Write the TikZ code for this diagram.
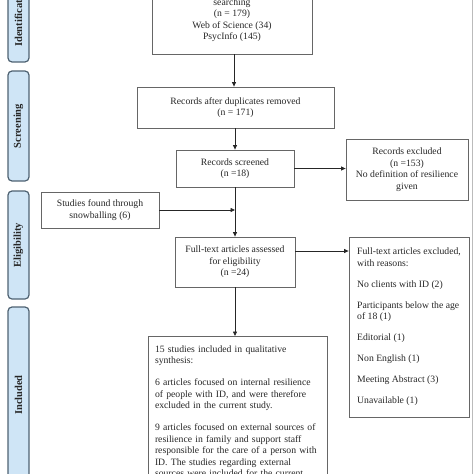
\documentclass[tikz,border=0pt]{standalone}
\usepackage{fontspec}
\setmainfont{Liberation Serif}
\usetikzlibrary{arrows.meta}
\definecolor{boxline}{HTML}{666666}
\definecolor{stagefill}{HTML}{CFE5F6}
\definecolor{stageline}{HTML}{4E6272}
\definecolor{edgeline}{HTML}{BBBBBB}
\begin{document}
\begin{tikzpicture}[x=1pt,y=-1pt,
  box/.style={draw=boxline,line width=0.8pt,inner sep=0pt,align=center,
    font=\fontsize{9.7}{11.5}\selectfont,text=black!85},
  stage/.style={draw=stageline,fill=stagefill,line width=1.2pt,rounded corners=4pt,
    minimum height=21pt,inner sep=0pt,rotate=90,
    font=\bfseries\fontsize{10.5}{12}\selectfont,text=black!85},
  arr/.style={draw=black!85,line width=0.8pt,-{Triangle[length=4.5pt,width=4pt]}},
  pageedge/.style={draw=edgeline,line width=1.5pt}]

\useasboundingbox (0,0) rectangle (474,474);

% stage labels
\node[stage,minimum width=91pt]  (sid)  at (18.5,16.5) {Identification};
\node[stage,minimum width=110pt] (sscr) at (18.5,126)  {Screening};
\node[stage,minimum width=108pt] (selg) at (18.5,245)  {Eligibility};
\node[stage,minimum width=176pt] (sinc) at (18.5,395)  {Included};

% boxes
\node[box,minimum width=160pt,minimum height=68pt] (b1) at (232,20)
  {searching\\(n = 179)\\Web of Science (34)\\PsycInfo (145)};
\node[box,minimum width=197pt,minimum height=41pt] (b2) at (235.5,107.5)
  {Records after duplicates removed\\(n = 171)};
\node[box,minimum width=118pt,minimum height=37pt] (b3) at (235,168.5)
  {Records screened\\(n =18)};
\node[box,minimum width=122pt,minimum height=61pt] (b4) at (407,169.5)
  {Records excluded\\(n =153)\\No definition of resilience\\given};
\node[box,minimum width=118pt,minimum height=36pt] (b5) at (100,210)
  {Studies found through\\snowballing (6)};
\node[box,minimum width=120pt,minimum height=50pt] (b6) at (235,262)
  {Full-text articles assessed\\for eligibility\\(n =24)};
\node[box,minimum width=120pt,minimum height=180pt,align=left] (b7) at (409,327)
  {Full-text articles excluded,\\with reasons:\\[9.5pt]No clients with ID (2)\\[9.5pt]Participants below the age\\of 18 (1)\\[9.5pt]Editorial (1)\\[9.5pt]Non English (1)\\[9.5pt]Meeting Abstract (3)\\[9.5pt]Unavailable (1)};
\node[box,minimum width=179pt,text width=165pt,align=left,inner xsep=0pt,inner ysep=9pt,anchor=north] (b8) at (237.5,336)
  {15 studies included in qualitative\\synthesis:\\[10.5pt]6 articles focused on internal resilience\\of people with ID, and were therefore\\excluded in the current study.\\[10.5pt]9 articles focused on external sources of\\resilience in family and support staff\\responsible for the care of a person with\\ID. The studies regarding external\\sources were included for the current};

% connectors
\draw[arr] ([xshift=2pt]b1.south) -- ([xshift=2pt]b1.south |- b2.north);
\draw[arr] (b2.south -| b3.north) -- (b3.north);
\draw[arr] (b3.south) -- (b6.north);
\draw[arr] (b5.east) -- (b5.east -| b3.south);
\draw[arr] (b3.east) -- (b3.east -| b4.west);
\draw[arr] ([yshift=11pt]b6.east) -- ([yshift=11pt]b6.east -| b7.west);
\draw[arr] (b6.south) -- (b6.south |- b8.north);

% right page edge
\draw[pageedge] (472.5,0) -- (472.5,474);
\end{tikzpicture}
\end{document}
